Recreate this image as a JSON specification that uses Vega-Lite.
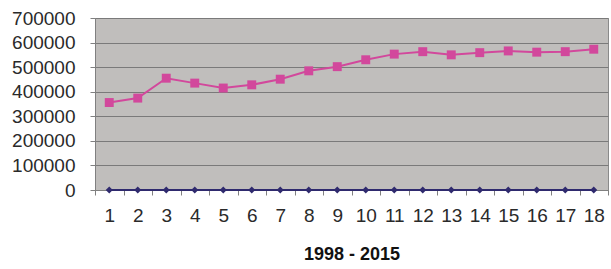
{
  "$schema": "https://vega.github.io/schema/vega-lite/v6.json",
  "width": 513,
  "height": 172,
  "autosize": {"type": "none"},
  "padding": {"left": 95, "top": 18, "right": 3, "bottom": 79},
  "background": "white",
  "config": {
    "view": {"fill": "#c0bebc", "stroke": "#8a8a8a", "strokeWidth": 1},
    "font": "Liberation Sans"
  },
  "data": {
    "values": [
      {"x": 1, "s": "A", "v": 356000}, {"x": 2, "s": "A", "v": 374000}, {"x": 3, "s": "A", "v": 455000},
      {"x": 4, "s": "A", "v": 435000}, {"x": 5, "s": "A", "v": 415000}, {"x": 6, "s": "A", "v": 428000},
      {"x": 7, "s": "A", "v": 451000}, {"x": 8, "s": "A", "v": 485000}, {"x": 9, "s": "A", "v": 502000},
      {"x": 10, "s": "A", "v": 530000}, {"x": 11, "s": "A", "v": 553000}, {"x": 12, "s": "A", "v": 563000},
      {"x": 13, "s": "A", "v": 550000}, {"x": 14, "s": "A", "v": 559000}, {"x": 15, "s": "A", "v": 566000},
      {"x": 16, "s": "A", "v": 561000}, {"x": 17, "s": "A", "v": 563000}, {"x": 18, "s": "A", "v": 573000},
      {"x": 1, "s": "B", "v": 0}, {"x": 2, "s": "B", "v": 0}, {"x": 3, "s": "B", "v": 0},
      {"x": 4, "s": "B", "v": 0}, {"x": 5, "s": "B", "v": 0}, {"x": 6, "s": "B", "v": 0},
      {"x": 7, "s": "B", "v": 0}, {"x": 8, "s": "B", "v": 0}, {"x": 9, "s": "B", "v": 0},
      {"x": 10, "s": "B", "v": 0}, {"x": 11, "s": "B", "v": 0}, {"x": 12, "s": "B", "v": 0},
      {"x": 13, "s": "B", "v": 0}, {"x": 14, "s": "B", "v": 0}, {"x": 15, "s": "B", "v": 0},
      {"x": 16, "s": "B", "v": 0}, {"x": 17, "s": "B", "v": 0}, {"x": 18, "s": "B", "v": 0}
    ]
  },
  "encoding": {
    "x": {
      "field": "x",
      "type": "ordinal",
      "bandPosition": 0.5,
      "scale": {"type": "band", "paddingInner": 0, "paddingOuter": 0},
      "axis": {
        "title": "1998 - 2015",
        "titleFont": "Liberation Sans",
        "titleFontSize": 18,
        "titleFontWeight": "bold",
        "titleColor": "#111111",
        "titlePadding": 20,
        "labelAngle": 0,
        "labelFontSize": 19,
        "labelColor": "#2a2a2a",
        "labelPadding": 11,
        "tickBand": "extent",
        "tickSize": 5,
        "tickColor": "#808080",
        "domainColor": "#808080",
        "grid": false
      }
    },
    "y": {
      "field": "v",
      "type": "quantitative",
      "scale": {"domain": [0, 700000]},
      "axis": {
        "title": null,
        "values": [0, 100000, 200000, 300000, 400000, 500000, 600000, 700000],
        "format": "d",
        "labelFontSize": 19,
        "labelColor": "#2a2a2a",
        "labelPadding": 15,
        "tickSize": 5,
        "tickColor": "#808080",
        "domainColor": "#808080",
        "grid": true,
        "gridColor": "#7a7a7a",
        "gridWidth": 1.2
      }
    },
    "color": {
      "field": "s",
      "type": "nominal",
      "scale": {"domain": ["A", "B"], "range": ["#d2489c", "#2f2a6e"]},
      "legend": null
    }
  },
  "layer": [
    {"mark": {"type": "line", "strokeWidth": 2}},
    {
      "mark": {"type": "point", "filled": true, "opacity": 1},
      "encoding": {
        "shape": {"field": "s", "type": "nominal", "scale": {"domain": ["A", "B"], "range": ["square", "diamond"]}, "legend": null},
        "size": {"field": "s", "type": "nominal", "scale": {"domain": ["A", "B"], "range": [80, 50]}, "legend": null}
      }
    }
  ]
}
